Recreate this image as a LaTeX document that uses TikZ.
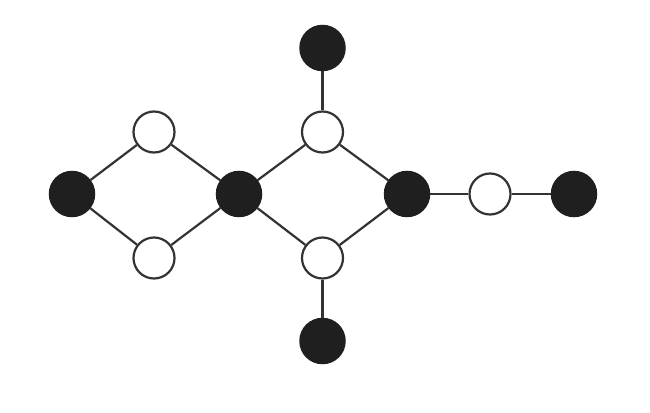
\documentclass[tikz,border=0pt]{standalone}
\begin{document}
\begin{tikzpicture}[x=1pt,y=-1pt,
  blk/.style={circle,fill=black!88,draw=black!88,line width=1.5pt,minimum size=45pt,inner sep=0pt},
  wht/.style={circle,fill=white,draw=black!80,line width=2.2pt,minimum size=41pt,inner sep=0pt},
  edge/.style={draw=black!80,line width=2.2pt}]
\useasboundingbox[fill=white] (0,0) rectangle (650,412);
\node[blk] (b1) at (72,194) {};
\node[wht] (w1) at (154,132) {};
\node[wht] (w2) at (154,258) {};
\node[blk] (b2) at (239,194) {};
\node[wht] (w3) at (322.5,132) {};
\node[blk] (b3) at (322.5,48) {};
\node[wht] (w4) at (322.5,258) {};
\node[blk] (b4) at (322.5,341) {};
\node[blk] (b5) at (407,194) {};
\node[wht] (w5) at (490,194) {};
\node[blk] (b6) at (574,194) {};
\draw[edge] (b1) -- (w1);
\draw[edge] (b1) -- (w2);
\draw[edge] (w1) -- (b2);
\draw[edge] (w2) -- (b2);
\draw[edge] (b2) -- (w3);
\draw[edge] (b2) -- (w4);
\draw[edge] (w3) -- (b3);
\draw[edge] (w3) -- (b5);
\draw[edge] (w4) -- (b5);
\draw[edge] (w4) -- (b4);
\draw[edge] (b5) -- (w5);
\draw[edge] (w5) -- (b6);
\end{tikzpicture}
\end{document}
